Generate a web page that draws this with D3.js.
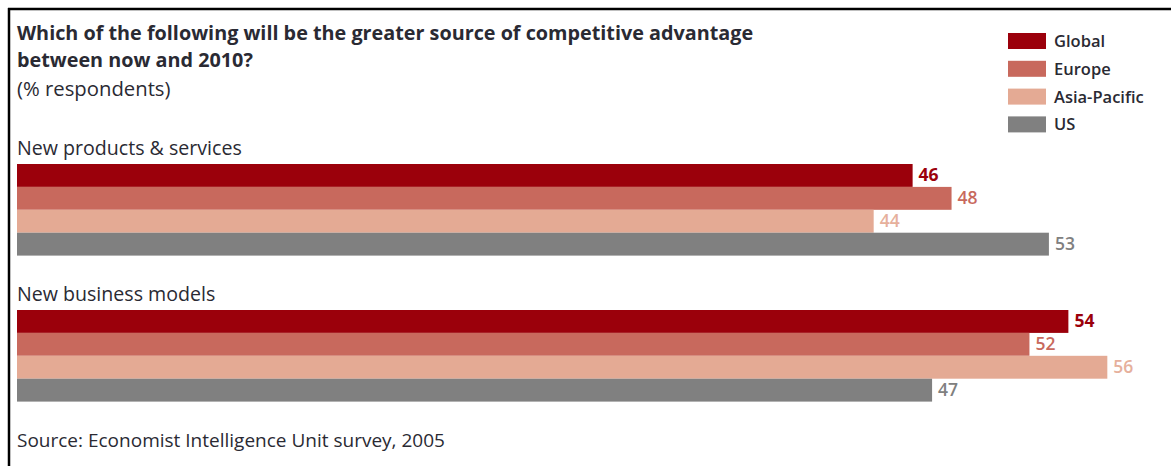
<!DOCTYPE html>
<html>
<head>
<meta charset="utf-8">
<script src="https://cdn.jsdelivr.net/npm/d3@7"></script>
<style>
  html, body { margin: 0; padding: 0; background: #fff; }
  svg { display: block; font-family: "Open Sans", sans-serif; }
</style>
</head>
<body>
<div id="chart"></div>
<script>
// chart data
var groups = ["New products & services", "New business models"];
var seriesNames = ["Global", "Europe", "Asia-Pacific", "US"];
var productsValues = [46, 48, 44, 53];
var businessValues = [54, 52, 56, 47];
var titleLines = ["Which of the following will be the greater source of competitive advantage", "between now and 2010?"];
var subtitle = "(% respondents)";
var source = "Source: Economist Intelligence Unit survey, 2005";

var COLORS = ["#9b000b", "#c8695d", "#e4aa94", "#808080"];
var LABEL_COLORS = ["#9b000b", "#c8695d", "#e6b09c", "#808080"];
var INK = "#2a2a33";

var W = 1171, H = 466;
var svg = d3.select("#chart").append("svg").attr("width", W).attr("height", H);

// frame: top and left rules only
svg.append("line").attr("x1", 8).attr("x2", W).attr("y1", 9).attr("y2", 9).attr("stroke", "#000").attr("stroke-width", 2.5);
svg.append("line").attr("x1", 9).attr("x2", 9).attr("y1", 8).attr("y2", H).attr("stroke", "#000").attr("stroke-width", 2.5);

// title block
titleLines.forEach(function (t, i) {
  svg.append("text").attr("x", 17).attr("y", 40 + i * 27).attr("font-size", 19.8).attr("font-weight", 700)
    .attr("fill", INK).text(t);
});
svg.append("text").attr("x", 17).attr("y", 96).attr("font-size", 20.3).attr("fill", INK).text(subtitle);

// scales
var x = d3.scaleLinear().domain([0, 56]).range([17, 17 + 56 * 19.47]);
var groupTops = [164, 310];
var barH = 22.9;
var data = [productsValues, businessValues];

groups.forEach(function (gname, gi) {
  var y = d3.scaleBand().domain(seriesNames).range([groupTops[gi], groupTops[gi] + barH * 4]).padding(0);
  svg.append("text").attr("x", 17).attr("y", groupTops[gi] - 9).attr("font-size", 19.6).attr("fill", INK).text(gname);
  seriesNames.forEach(function (s, si) {
    var v = data[gi][si];
    svg.append("rect").attr("x", x(0)).attr("y", y(s)).attr("width", x(v) - x(0)).attr("height", y.bandwidth())
      .attr("fill", COLORS[si]);
    svg.append("text").attr("x", x(v) + 6).attr("y", y(s) + y.bandwidth() / 2 + 6)
      .attr("font-size", 17.5).attr("font-weight", si === 0 ? 700 : 600).attr("fill", LABEL_COLORS[si]).text(v);
  });
});

// legend
seriesNames.forEach(function (s, i) {
  var ly = 33 + i * 27.8;
  svg.append("rect").attr("x", 1008).attr("y", ly).attr("width", 38).attr("height", 16).attr("fill", COLORS[i]);
  svg.append("text").attr("x", 1054).attr("y", ly + 14).attr("font-size", 16.5).attr("font-weight", 600)
    .attr("fill", INK).text(s);
});

// source
svg.append("text").attr("x", 17).attr("y", 447).attr("font-size", 19).attr("fill", INK).text(source);
</script>
</body>
</html>
